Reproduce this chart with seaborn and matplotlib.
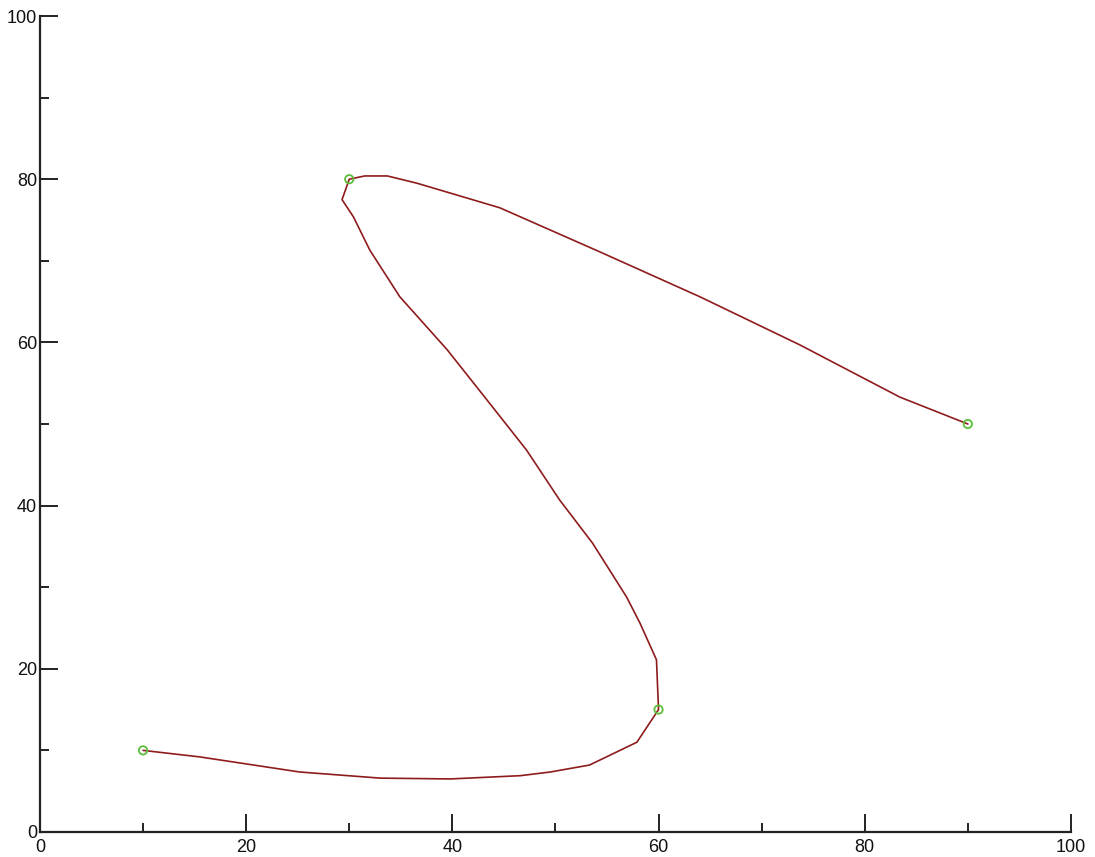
import matplotlib
matplotlib.use("Agg")
import matplotlib.pyplot as plt
from matplotlib.ticker import MultipleLocator
import seaborn as sns
import pandas as pd

# Control points of the curve
ctrl_x = [10, 60, 30, 90]
ctrl_y = [10, 15, 80, 50]

# Vertices of the smooth curve passing through the control points
curve_x = [10.0, 15.5, 25.2, 33.0, 39.8, 46.6, 49.5, 53.3, 57.9, 60.0,
           59.8, 58.2, 56.9, 53.6, 50.4, 47.2, 43.2, 39.5, 34.9, 32.0, 30.4, 29.3, 30.0,
           31.5, 33.7, 36.6, 39.8, 44.6, 54.3, 64.0, 73.7, 83.4, 90.0]
curve_y = [10.0, 9.2, 7.35, 6.6, 6.5, 6.9, 7.35, 8.2, 11.0, 15.0,
           21.1, 25.6, 28.8, 35.4, 40.7, 46.8, 53.2, 59.1, 65.6, 71.3, 75.4, 77.5, 80.0,
           80.4, 80.4, 79.5, 78.3, 76.5, 71.1, 65.6, 59.7, 53.3, 50.0]

major_ticks = [0, 20, 40, 60, 80, 100]

sns.set_style("ticks")
plt.rcParams["font.family"] = ["Liberation Sans", "DejaVu Sans"]

fig = plt.figure(figsize=(10.95, 8.57), dpi=100)
ax = fig.add_axes([0.0365, 0.0292, 0.9415, 0.9521])

curve = pd.DataFrame({"x": curve_x, "y": curve_y})
ctrl = pd.DataFrame({"x": ctrl_x, "y": ctrl_y})

sns.lineplot(data=curve, x="x", y="y", sort=False, estimator=None,
             color="#8e1c1c", linewidth=1.2, ax=ax)
sns.scatterplot(data=ctrl, x="x", y="y", marker="o", s=36,
                facecolor="none", edgecolor="#5cbf3a", linewidth=1.3, ax=ax, zorder=3)

ax.set_xlim(0, 100)
ax.set_ylim(0, 100)
ax.set_xticks(major_ticks)
ax.set_yticks(major_ticks)
ax.xaxis.set_minor_locator(MultipleLocator(10))
ax.yaxis.set_minor_locator(MultipleLocator(10))
ax.set_xlabel("")
ax.set_ylabel("")

sns.despine(ax=ax)
for side in ("left", "bottom"):
    ax.spines[side].set_linewidth(1.6)
    ax.spines[side].set_color("#222222")

ax.tick_params(which="major", direction="in", length=13, width=1.4,
               color="#222222", labelsize=13, labelcolor="#111111")
ax.tick_params(which="minor", direction="in", length=6.5, width=1.4, color="#222222")
ax.tick_params(axis="y", which="major", pad=2)
ax.tick_params(axis="x", which="major", pad=5)

fig.savefig("out.png", dpi=100)
